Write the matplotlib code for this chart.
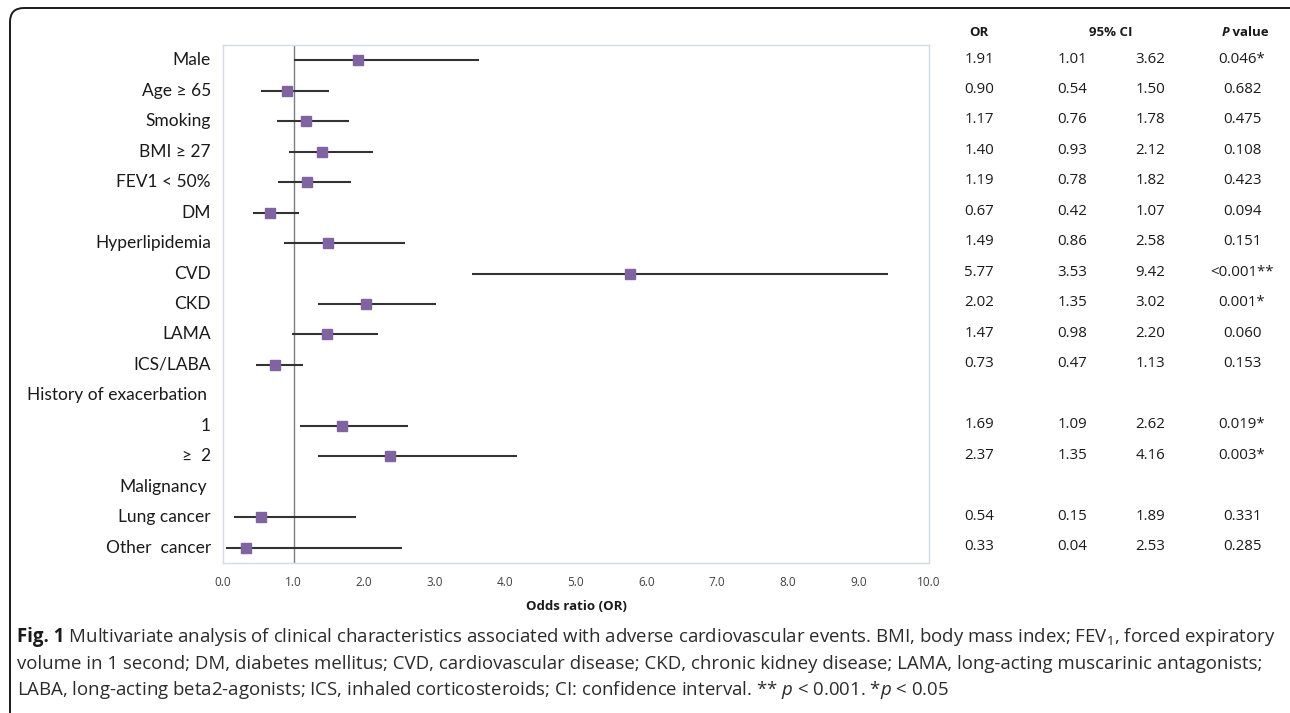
import matplotlib
matplotlib.use("Agg")
import matplotlib.pyplot as plt
import matplotlib.transforms as mtransforms
from matplotlib.patches import FancyBboxPatch

# ---------------- data ----------------
labels = ["Male", "Age ≥ 65", "Smoking", "BMI ≥ 27", "FEV1 < 50%", "DM",
          "Hyperlipidemia", "CVD", "CKD", "LAMA", "ICS/LABA",
          "History of exacerbation", "1", "≥  2", "Malignancy",
          "Lung cancer", "Other  cancer"]
odds = [1.91, 0.90, 1.17, 1.40, 1.19, 0.67, 1.49, 5.77, 2.02, 1.47, 0.73,
        None, 1.69, 2.37, None, 0.54, 0.33]
ci_low = [1.01, 0.54, 0.76, 0.93, 0.78, 0.42, 0.86, 3.53, 1.35, 0.98, 0.47,
          None, 1.09, 1.35, None, 0.15, 0.04]
ci_high = [3.62, 1.50, 1.78, 2.12, 1.82, 1.07, 2.58, 9.42, 3.02, 2.20, 1.13,
           None, 2.62, 4.16, None, 1.89, 2.53]
p_values = ["0.046*", "0.682", "0.475", "0.108", "0.423", "0.094", "0.151",
            "<0.001**", "0.001*", "0.060", "0.153", "", "0.019*", "0.003*", "",
            "0.331", "0.285"]
x_ticks = [0, 1, 2, 3, 4, 5, 6, 7, 8, 9, 10]

W, H = 1290, 713
fig = plt.figure(figsize=(W / 100, H / 100), dpi=100)
fig.patch.set_facecolor("white")

lab_font = "Lato"
txt_font = "Open Sans"
plt.rcParams["mathtext.fontset"] = "custom"
plt.rcParams["mathtext.rm"] = txt_font
plt.rcParams["mathtext.it"] = txt_font + ":italic"

def fx(px):
    return px / W

def fy(py):
    return 1 - py / H

ax = fig.add_axes([fx(223), fy(563), fx(929) - fx(223), fy(45) - fy(563)])
n = len(labels)
ax.set_xlim(0, 10)
ax.set_ylim(n - 0.5, -0.5)

ax.axvline(1.0, color="#7f7f7f", lw=1.0, zorder=1)
for i in range(n):
    if odds[i] is None:
        continue
    ax.plot([ci_low[i], ci_high[i]], [i, i], color="#333333", lw=1.5,
            solid_capstyle="butt", zorder=2)
    ax.plot(odds[i], i, marker="s", ms=7.0, color="#8064A2", mec="#8064A2",
            zorder=3)

for s in ax.spines.values():
    s.set_color("#d5dbe3")
    s.set_linewidth(1.0)
ax.set_yticks([])
ax.set_xticks(x_ticks)
ax.set_xticklabels([f"{t:.1f}" for t in x_ticks], fontsize=8.5,
                   family=txt_font, color="#404040")
ax.tick_params(axis="x", length=0, pad=9)
ax.set_xlabel("Odds ratio (OR)", fontsize=9.5, fontweight="bold",
              family=txt_font, labelpad=8, color="#1a1a1a")

blend = mtransforms.blended_transform_factory(fig.transFigure, ax.transData)
for i, lab in enumerate(labels):
    xr = 207 if lab in ("History of exacerbation", "Malignancy") else 211
    fig.text(fx(xr), i, lab, transform=blend, ha="right", va="center",
             fontsize=12.5, family=lab_font, color="#1a1a1a")

# table
col_or, col_lo, col_hi, col_p = 979, 1072, 1150, 1242
hy = fy(32)
fig.text(fx(col_or), hy, "OR", ha="center", va="center", fontsize=9.5,
         fontweight="bold", family=txt_font, color="#1a1a1a")
fig.text(fx(1111), hy, "95% CI", ha="center", va="center", fontsize=9.5,
         fontweight="bold", family=txt_font, color="#1a1a1a")
fig.text(fx(1229), hy, "P", ha="right", va="center", fontsize=9.5,
         fontweight="bold", style="italic", family=txt_font, color="#1a1a1a")
fig.text(fx(1229), hy, " value", ha="left", va="center", fontsize=9.5,
         fontweight="bold", family=txt_font, color="#1a1a1a")
for i in range(n):
    if odds[i] is None:
        continue
    yy = i - 0.04
    for cx, val in ((col_or, f"{odds[i]:.2f}"), (col_lo, f"{ci_low[i]:.2f}"),
                    (col_hi, f"{ci_high[i]:.2f}"), (col_p, p_values[i])):
        fig.text(fx(cx), yy, val, transform=blend, ha="center", va="center",
                 fontsize=10.8, family=txt_font, color="#1a1a1a")

# outer rounded frame
frame = FancyBboxPatch((10, -40), 1320, 745,
                       boxstyle="round,pad=0,rounding_size=14",
                       transform=mtransforms.IdentityTransform(),
                       fill=False, ec="#1a1a1a", lw=1.4)
fig.patches.append(frame)

# caption
renderer = fig.canvas.get_renderer()
cap_size = 13.4
cap_col = "#2b2b2b"
t0 = fig.text(fx(17), fy(637), "Fig. 1", ha="left", va="center",
              fontsize=cap_size, fontweight="bold", family=txt_font,
              color="#1a1a1a")
bb = t0.get_window_extent(renderer)
line1 = (" Multivariate analysis of clinical characteristics associated with "
         "adverse cardiovascular events. BMI, body mass index; FEV$_{1}$, "
         "forced expiratory")
fig.text(bb.x1 / W, fy(637), line1, ha="left", va="center",
         fontsize=cap_size, family=txt_font, color=cap_col)
line2 = ("volume in 1 second; DM, diabetes mellitus; CVD, cardiovascular "
         "disease; CKD, chronic kidney disease; LAMA, long-acting muscarinic "
         "antagonists;")
fig.text(fx(17), fy(664), line2, ha="left", va="center",
         fontsize=cap_size, family=txt_font, color=cap_col)
line3 = ("LABA, long-acting beta2-agonists; ICS, inhaled corticosteroids; "
         "CI: confidence interval. ** $p$ < 0.001. *$p$ < 0.05")
fig.text(fx(17), fy(690), line3, ha="left", va="center",
         fontsize=cap_size, family=txt_font, color=cap_col)

fig.savefig("out.png", dpi=100)
